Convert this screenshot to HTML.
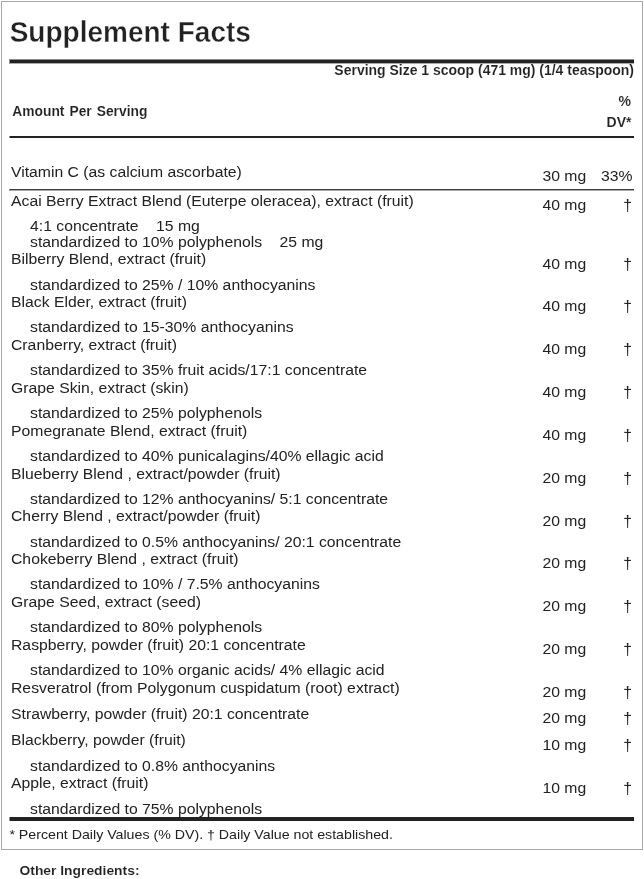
<!DOCTYPE html>
<html><head><meta charset="utf-8"><title>Supplement Facts</title>
<style>
html,body{margin:0;padding:0;background:#fff;overflow:hidden;}
body{width:644px;height:879px;position:relative;overflow:hidden;font-family:"Liberation Sans",sans-serif;color:#222;}
#w{position:absolute;left:0;top:0;width:644px;height:879px;overflow:hidden;will-change:transform;}
.box{position:absolute;left:1px;top:1px;width:640px;height:847px;border:1px solid #a8a8a8;}
.ln{position:absolute;left:10px;width:624px;background:#222;box-shadow:-1px 0 0 rgba(34,34,34,.5);}
.t{position:absolute;white-space:nowrap;}
</style></head><body><div id="w">
<div class="box"></div>
<div class="t" style="left:9.7px;top:15px;font-size:28px;line-height:36px;transform:scaleY(1.04);transform-origin:left 28px;font-weight:bold;-webkit-text-stroke:0.35px #fff;">Supplement Facts</div>
<div class="ln" style="top:59px;height:5px;background:linear-gradient(#8a8a8a 0 1px,#222 1px 4px,#aaa 4px 5px)"></div>
<div class="t" style="right:10.0px;top:58px;font-size:13.97px;line-height:24px;font-weight:bold;-webkit-text-stroke:0.1px #fff;">Serving Size 1 scoop (471 mg) (1/4 teaspoon)</div>
<div class="t" style="left:12.3px;top:100px;font-size:13.8px;line-height:24px;transform:scaleY(1.02);transform-origin:left 17px;font-weight:bold;-webkit-text-stroke:0.1px #fff;word-spacing:1.2px;">Amount Per Serving</div>
<div class="t" style="right:13.1px;top:89px;font-size:14px;line-height:24px;font-weight:bold;-webkit-text-stroke:0.1px #fff;">%</div>
<div class="t" style="right:12.5px;top:110px;font-size:14px;line-height:24px;font-weight:bold;-webkit-text-stroke:0.1px #fff;">DV*</div>
<div class="ln" style="top:136px;height:2px"></div>
<div class="ln" style="top:189px;height:2px;background:linear-gradient(#3a3a3a 0 1px,#aaa 1px 2px)"></div>
<div class="t" style="left:11.0px;top:160px;font-size:15.75px;line-height:24px;transform:scaleY(0.92);transform-origin:left 17px;">Vitamin C (as calcium ascorbate)</div>
<div class="t" style="right:57.8px;top:164px;font-size:15.75px;line-height:24px;transform:scaleY(0.92);transform-origin:right 17px;">30 mg</div>
<div class="t" style="right:11.5px;top:164px;font-size:15.75px;line-height:24px;transform:scaleY(0.92);transform-origin:right 17px;">33%</div>
<div class="t" style="left:11.0px;top:189px;font-size:15.75px;line-height:24px;transform:scaleY(0.92);transform-origin:left 17px;">Acai Berry Extract Blend (Euterpe oleracea), extract (fruit)</div>
<div class="t" style="right:57.8px;top:193px;font-size:15.75px;line-height:24px;transform:scaleY(0.92);transform-origin:right 17px;">40 mg</div>
<div class="t" style="right:12.0px;top:194px;font-size:15.75px;line-height:24px;">†</div>
<div class="t" style="left:30.0px;top:214px;font-size:15.75px;line-height:24px;transform:scaleY(0.92);transform-origin:left 17px;">4:1 concentrate&nbsp;&nbsp;&nbsp; 15 mg</div>
<div class="t" style="left:30.0px;top:230px;font-size:15.75px;line-height:24px;transform:scaleY(0.92);transform-origin:left 17px;">standardized to 10% polyphenols&nbsp;&nbsp;&nbsp; 25 mg</div>
<div class="t" style="left:11.0px;top:247px;font-size:15.75px;line-height:24px;transform:scaleY(0.92);transform-origin:left 17px;">Bilberry Blend, extract (fruit)</div>
<div class="t" style="right:57.8px;top:252px;font-size:15.75px;line-height:24px;transform:scaleY(0.92);transform-origin:right 17px;">40 mg</div>
<div class="t" style="right:12.0px;top:253px;font-size:15.75px;line-height:24px;">†</div>
<div class="t" style="left:30.0px;top:273px;font-size:15.75px;line-height:24px;transform:scaleY(0.92);transform-origin:left 17px;">standardized to 25% / 10% anthocyanins</div>
<div class="t" style="left:11.0px;top:290px;font-size:15.75px;line-height:24px;transform:scaleY(0.92);transform-origin:left 17px;">Black Elder, extract (fruit)</div>
<div class="t" style="right:57.8px;top:294px;font-size:15.75px;line-height:24px;transform:scaleY(0.92);transform-origin:right 17px;">40 mg</div>
<div class="t" style="right:12.0px;top:295px;font-size:15.75px;line-height:24px;">†</div>
<div class="t" style="left:30.0px;top:315px;font-size:15.75px;line-height:24px;transform:scaleY(0.92);transform-origin:left 17px;">standardized to 15-30% anthocyanins</div>
<div class="t" style="left:11.0px;top:333px;font-size:15.75px;line-height:24px;transform:scaleY(0.92);transform-origin:left 17px;">Cranberry, extract (fruit)</div>
<div class="t" style="right:57.8px;top:337px;font-size:15.75px;line-height:24px;transform:scaleY(0.92);transform-origin:right 17px;">40 mg</div>
<div class="t" style="right:12.0px;top:338px;font-size:15.75px;line-height:24px;">†</div>
<div class="t" style="left:30.0px;top:358px;font-size:15.75px;line-height:24px;transform:scaleY(0.92);transform-origin:left 17px;">standardized to 35% fruit acids/17:1 concentrate</div>
<div class="t" style="left:11.0px;top:376px;font-size:15.75px;line-height:24px;transform:scaleY(0.92);transform-origin:left 17px;">Grape Skin, extract (skin)</div>
<div class="t" style="right:57.8px;top:380px;font-size:15.75px;line-height:24px;transform:scaleY(0.92);transform-origin:right 17px;">40 mg</div>
<div class="t" style="right:12.0px;top:381px;font-size:15.75px;line-height:24px;">†</div>
<div class="t" style="left:30.0px;top:401px;font-size:15.75px;line-height:24px;transform:scaleY(0.92);transform-origin:left 17px;">standardized to 25% polyphenols</div>
<div class="t" style="left:11.0px;top:419px;font-size:15.75px;line-height:24px;transform:scaleY(0.92);transform-origin:left 17px;">Pomegranate Blend, extract (fruit)</div>
<div class="t" style="right:57.8px;top:423px;font-size:15.75px;line-height:24px;transform:scaleY(0.92);transform-origin:right 17px;">40 mg</div>
<div class="t" style="right:12.0px;top:424px;font-size:15.75px;line-height:24px;">†</div>
<div class="t" style="left:30.0px;top:444px;font-size:15.75px;line-height:24px;transform:scaleY(0.92);transform-origin:left 17px;">standardized to 40% punicalagins/40% ellagic acid</div>
<div class="t" style="left:11.0px;top:462px;font-size:15.75px;line-height:24px;transform:scaleY(0.92);transform-origin:left 17px;">Blueberry Blend , extract/powder (fruit)</div>
<div class="t" style="right:57.8px;top:466px;font-size:15.75px;line-height:24px;transform:scaleY(0.92);transform-origin:right 17px;">20 mg</div>
<div class="t" style="right:12.0px;top:467px;font-size:15.75px;line-height:24px;">†</div>
<div class="t" style="left:30.0px;top:487px;font-size:15.75px;line-height:24px;transform:scaleY(0.92);transform-origin:left 17px;">standardized to 12% anthocyanins/ 5:1 concentrate</div>
<div class="t" style="left:11.0px;top:504px;font-size:15.75px;line-height:24px;transform:scaleY(0.92);transform-origin:left 17px;">Cherry Blend , extract/powder (fruit)</div>
<div class="t" style="right:57.8px;top:509px;font-size:15.75px;line-height:24px;transform:scaleY(0.92);transform-origin:right 17px;">20 mg</div>
<div class="t" style="right:12.0px;top:510px;font-size:15.75px;line-height:24px;">†</div>
<div class="t" style="left:30.0px;top:530px;font-size:15.75px;line-height:24px;transform:scaleY(0.92);transform-origin:left 17px;">standardized to 0.5% anthocyanins/ 20:1 concentrate</div>
<div class="t" style="left:11.0px;top:547px;font-size:15.75px;line-height:24px;transform:scaleY(0.92);transform-origin:left 17px;">Chokeberry Blend , extract (fruit)</div>
<div class="t" style="right:57.8px;top:551px;font-size:15.75px;line-height:24px;transform:scaleY(0.92);transform-origin:right 17px;">20 mg</div>
<div class="t" style="right:12.0px;top:552px;font-size:15.75px;line-height:24px;">†</div>
<div class="t" style="left:30.0px;top:572px;font-size:15.75px;line-height:24px;transform:scaleY(0.92);transform-origin:left 17px;">standardized to 10% / 7.5% anthocyanins</div>
<div class="t" style="left:11.0px;top:590px;font-size:15.75px;line-height:24px;transform:scaleY(0.92);transform-origin:left 17px;">Grape Seed, extract (seed)</div>
<div class="t" style="right:57.8px;top:594px;font-size:15.75px;line-height:24px;transform:scaleY(0.92);transform-origin:right 17px;">20 mg</div>
<div class="t" style="right:12.0px;top:595px;font-size:15.75px;line-height:24px;">†</div>
<div class="t" style="left:30.0px;top:615px;font-size:15.75px;line-height:24px;transform:scaleY(0.92);transform-origin:left 17px;">standardized to 80% polyphenols</div>
<div class="t" style="left:11.0px;top:633px;font-size:15.75px;line-height:24px;transform:scaleY(0.92);transform-origin:left 17px;">Raspberry, powder (fruit) 20:1 concentrate</div>
<div class="t" style="right:57.8px;top:637px;font-size:15.75px;line-height:24px;transform:scaleY(0.92);transform-origin:right 17px;">20 mg</div>
<div class="t" style="right:12.0px;top:638px;font-size:15.75px;line-height:24px;">†</div>
<div class="t" style="left:30.0px;top:658px;font-size:15.75px;line-height:24px;transform:scaleY(0.92);transform-origin:left 17px;">standardized to 10% organic acids/ 4% ellagic acid</div>
<div class="t" style="left:11.0px;top:676px;font-size:15.75px;line-height:24px;transform:scaleY(0.92);transform-origin:left 17px;">Resveratrol (from Polygonum cuspidatum (root) extract)</div>
<div class="t" style="right:57.8px;top:680px;font-size:15.75px;line-height:24px;transform:scaleY(0.92);transform-origin:right 17px;">20 mg</div>
<div class="t" style="right:12.0px;top:681px;font-size:15.75px;line-height:24px;">†</div>
<div class="t" style="left:11.0px;top:702px;font-size:15.75px;line-height:24px;transform:scaleY(0.92);transform-origin:left 17px;">Strawberry, powder (fruit) 20:1 concentrate</div>
<div class="t" style="right:57.8px;top:706px;font-size:15.75px;line-height:24px;transform:scaleY(0.92);transform-origin:right 17px;">20 mg</div>
<div class="t" style="right:12.0px;top:707px;font-size:15.75px;line-height:24px;">†</div>
<div class="t" style="left:11.0px;top:728px;font-size:15.75px;line-height:24px;transform:scaleY(0.92);transform-origin:left 17px;">Blackberry, powder (fruit)</div>
<div class="t" style="right:57.8px;top:733px;font-size:15.75px;line-height:24px;transform:scaleY(0.92);transform-origin:right 17px;">10 mg</div>
<div class="t" style="right:12.0px;top:734px;font-size:15.75px;line-height:24px;">†</div>
<div class="t" style="left:30.0px;top:754px;font-size:15.75px;line-height:24px;transform:scaleY(0.92);transform-origin:left 17px;">standardized to 0.8% anthocyanins</div>
<div class="t" style="left:11.0px;top:771px;font-size:15.75px;line-height:24px;transform:scaleY(0.92);transform-origin:left 17px;">Apple, extract (fruit)</div>
<div class="t" style="right:57.8px;top:776px;font-size:15.75px;line-height:24px;transform:scaleY(0.92);transform-origin:right 17px;">10 mg</div>
<div class="t" style="right:12.0px;top:777px;font-size:15.75px;line-height:24px;">†</div>
<div class="t" style="left:30.0px;top:797px;font-size:15.75px;line-height:24px;transform:scaleY(0.92);transform-origin:left 17px;">standardized to 75% polyphenols</div>
<div class="ln" style="top:817px;height:4px"></div>
<div class="t" style="left:9.4px;top:822px;font-size:14.2px;line-height:24px;transform:scaleY(0.92);transform-origin:left 17px;">* Percent Daily Values (% DV). † Daily Value not established.</div>
<div class="t" style="left:19.5px;top:858px;font-size:13.85px;line-height:24px;transform:scaleY(0.96);transform-origin:left 17px;font-weight:bold;-webkit-text-stroke:0.1px #fff;">Other Ingredients:</div>
</div></body></html>
